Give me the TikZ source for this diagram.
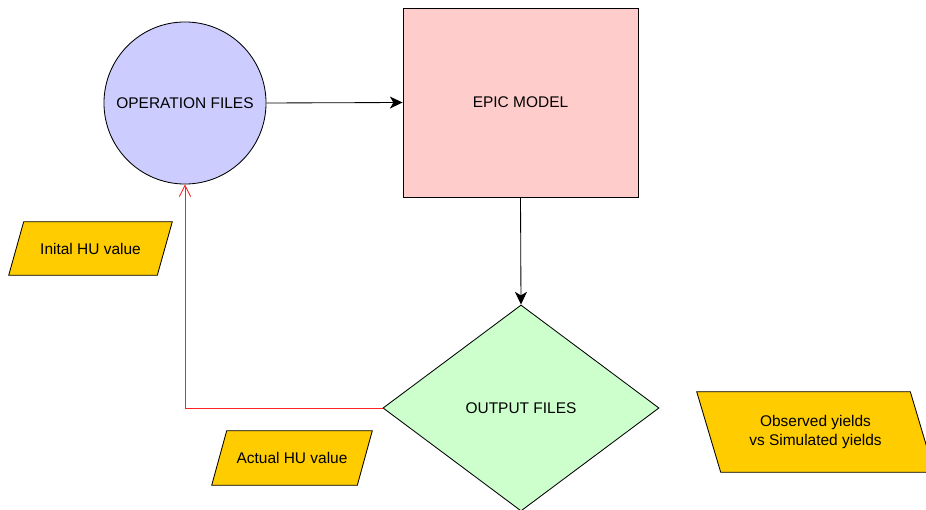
\documentclass[tikz,border=0pt]{standalone}
\usepackage{fontspec}
\setmainfont{Liberation Sans}
\usetikzlibrary{shapes.geometric,arrows.meta,backgrounds}

\definecolor{opsblue}{HTML}{CCCCFF}
\definecolor{epicpink}{HTML}{FFCCCC}
\definecolor{outgreen}{HTML}{CCFFCC}
\definecolor{dataorange}{HTML}{FFCC00}
\definecolor{loopred}{HTML}{FF2222}

\tikzset{
	box/.style={draw=black, line width=0.6pt, font=\fontsize{11}{13}\selectfont, inner sep=0pt},
	datatext/.style={rectangle, inner sep=0pt, font=\fontsize{11}{13}\selectfont, align=center},
	datashape/.style={draw=black, line width=0.6pt, fill=dataorange},
	link/.style={-{Stealth[length=9pt,width=8.5pt,inset=2.5pt]}, line width=0.6pt},
	backlink/.style={-{Straight Barb[length=8pt,width=8pt]}, line width=0.6pt, loopred},
}

\begin{document}
\begin{tikzpicture}[x=0.025cm,y=-0.025cm]
	\useasboundingbox (0,0) rectangle (926,510);

	% main blocks
	\node[box, circle, fill=opsblue, minimum size=4.05cm] (ops) at (185,103) {OPERATION FILES};
	\node[box, rectangle, fill=epicpink, minimum width=5.875cm, minimum height=4.725cm] (epic) at (520.5,102.5) {EPIC MODEL};
	\node[box, diamond, fill=outgreen, minimum width=6.9cm, minimum height=5.15cm] (out) at (521,408) {OUTPUT FILES};

	% data
	\node[datatext, minimum width=4.075cm, minimum height=1.325cm] (init) at (90.5,248.5) {Inital HU value};
	\node[datatext, minimum width=4cm, minimum height=1.35cm] (actual) at (292,458) {Actual HU value};
	\node[datatext, minimum width=5.925cm, minimum height=2cm] (obs) at (815.5,432) {Observed yields\\vs Simulated yields};

	\begin{scope}[on background layer]
		\foreach \n in {init,actual}
			\draw[datashape] ([xshift=0.375cm]\n.north west) -- (\n.north east) -- ([xshift=-0.375cm]\n.south east) -- (\n.south west) -- cycle;
		\draw[datashape] (obs.north west) -- ([xshift=-0.6cm]obs.north east) -- (obs.south east) -- ([xshift=0.6cm]obs.south west) -- cycle;
	\end{scope}

	\draw[link] (ops.east) -- (epic.west);
	\draw[link] (epic.south) -- (out.north);
	\draw[backlink] (out.west) -| (ops.south);
\end{tikzpicture}
\end{document}
